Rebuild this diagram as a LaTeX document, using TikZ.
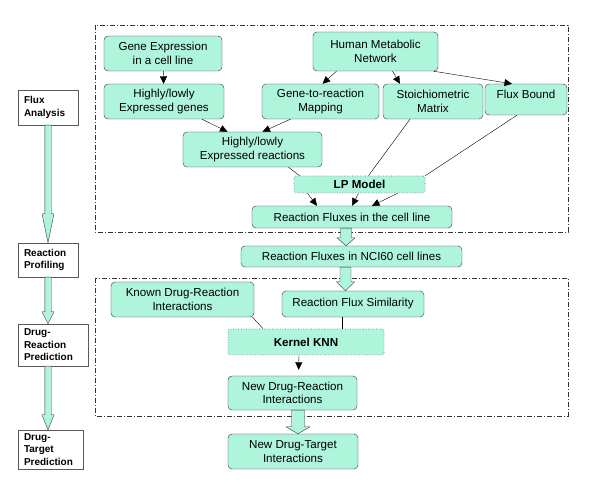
\documentclass[tikz,border=0pt]{standalone}
\usepackage{fontspec}
\setmainfont{Liberation Sans}
\usetikzlibrary{arrows.meta,calc}

\definecolor{boxgreen}{RGB}{174,245,220}
\definecolor{boxline}{RGB}{51,51,51}

\tikzset{
  box/.style={draw=boxline, fill=boxgreen, rounded corners=4pt, align=center,
    inner sep=1pt, font=\fontsize{11.6}{13.7}\selectfont},
  model/.style={draw=black!55, dotted, line width=0.6pt, fill=boxgreen, rounded corners=2pt,
    inner sep=1pt, font=\bfseries\fontsize{11.6}{13.7}\selectfont},
  stage/.style={draw=black!65, fill=white, align=left, inner xsep=6pt, inner ysep=1pt,
    font=\bfseries\fontsize{10}{12.5}\selectfont},
  frame/.style={draw=black!80, dash pattern=on 5pt off 2pt on 1pt off 2pt},
  arr/.style={-{Triangle[length=7.5pt,width=7pt]}},
  fat/.style={draw=black!80, fill=boxgreen},
}

% hollow block arrow: from, to, half shaft, half head, head length
\newcommand{\fatarrow}[5]{%
  \draw[fat] ($(#1)+(-#3,0)$) -- ($(#2 -| #1)+(-#3,-#5)$) -- ($(#2 -| #1)+(-#4,-#5)$)
    -- (#2 -| #1) -- ($(#2 -| #1)+(#4,-#5)$) -- ($(#2 -| #1)+(#3,-#5)$)
    -- ($(#1)+(#3,0)$) -- cycle;
}

\begin{document}
\begin{tikzpicture}[x=1pt,y=1pt,yscale=-1]
  \useasboundingbox (0,0) rectangle (600,502);

  % dash-dot frames
  \draw[frame] (95,25) rectangle (568,232);
  \draw[frame] (95,278) rectangle (568,416);

  % stages on the left
  \node[stage, text width=48pt, minimum height=35pt] (fa) at (48,107.5) {Flux\\Analysis};
  \node[stage, text width=48pt, minimum height=34pt] (rp) at (48,260) {Reaction\\Profiling};
  \node[stage, text width=58pt, minimum height=42pt] (drp) at (53,345) {Drug-\\Reaction\\Prediction};
  \node[stage, text width=53pt, minimum height=39pt] (dtp) at (50.5,449.5) {Drug-\\Target\\Prediction};

  % flux analysis
  \node[box, minimum width=118pt, minimum height=35pt] (ge) at (163,53.5) {Gene Expression\\in a cell line};
  \node[box, minimum width=120pt, minimum height=35pt] (hg) at (164,101.5) {Highly/lowly\\Expressed genes};
  \node[box, minimum width=125pt, minimum height=39pt] (hmn) at (375.5,51.5) {Human Metabolic\\Network};
  \node[box, minimum width=117pt, minimum height=35pt] (g2r) at (320.5,101.5) {Gene-to-reaction\\Mapping};
  \node[box, minimum width=100pt, minimum height=35pt] (sm) at (433,101.5) {Stoichiometric\\Matrix};
  \node[box, minimum width=82pt, minimum height=31pt, text depth=11pt] (fb) at (526,99.5) {Flux Bound};
  \node[box, minimum width=139pt, minimum height=35pt] (hr) at (252.5,149.5) {Highly/lowly\\Expressed reactions};
  \node[model, minimum width=131pt, minimum height=17pt] (lp) at (359.5,184.5) {LP Model};
  \node[box, minimum width=200pt, minimum height=22pt] (rfc) at (352,217) {Reaction Fluxes in the cell line};

  % profiling
  \node[box, minimum width=221pt, minimum height=21pt] (rfn) at (351.5,256.5) {Reaction Fluxes in NCI60 cell lines};

  % drug-reaction prediction
  \node[box, minimum width=143pt, minimum height=35pt] (kdr) at (182.5,299.5) {Known Drug-Reaction\\Interactions};
  \node[box, minimum width=142pt, minimum height=26pt] (rfs) at (353,304) {Reaction Flux Similarity};
  \node[model, minimum width=156pt, minimum height=26pt] (knn) at (306,342) {Kernel KNN};
  \node[box, minimum width=129pt, minimum height=34pt] (ndr) at (292.5,393) {New Drug-Reaction\\Interactions};
  \node[box, minimum width=130pt, minimum height=35pt] (ndt) at (293,451.5) {New Drug-Target\\Interactions};

  % connectors
  \draw[arr] (ge) -- (hg);
  \draw[arr] ([xshift=38]hg.south) -- ([xshift=-25]hr.north);
  \draw[arr] ([xshift=-30]g2r.south) -- ([xshift=10]hr.north);
  \draw[arr] ([xshift=-39]hmn.south) -- ([xshift=2]g2r.north);
  \draw[arr] ([xshift=17]hmn.south) -- ([xshift=-33]sm.north);
  \draw[arr] ([xshift=58]hmn.south) -- ([xshift=-14]fb.north);
  \draw ([xshift=36]hr.south) -- ([xshift=-60]lp.north);
  \draw ([xshift=-23]sm.south) -- ([xshift=9]lp.north);
  \draw ([xshift=-9]fb.south) -- (lp.north east);
  \draw[arr] ([xshift=-52]lp.south) -- ([xshift=-35]rfc.north);
  \draw[arr] ([xshift=-1]lp.south) -- (rfc.north);
  \draw[arr] ([xshift=38]lp.south) -- ([xshift=20]rfc.north);
  \draw ([xshift=70]kdr.south) -- ([xshift=-43]knn.north);
  \draw ([xshift=-11]rfs.south) -- ([xshift=36]knn.north);
  \draw[arr, shorten >=6pt] ([xshift=-7]knn.south) -- ([xshift=6]ndr.north);

  % block arrows
  \coordinate (drpout) at (drp.south -| rp.south);
  \coordinate (rfcout) at ($(rfc.south)+(-6,0)$);
  \coordinate (rfnout) at ($(rfn.south)+(-6,0)$);
  \coordinate (ndrout) at ($(ndr.south)+(5.5,0)$);
  \fatarrow{fa.south}{rp.north}{3.2}{6}{29}
  \fatarrow{rp.south}{drp.north}{3.2}{6}{12}
  \fatarrow{drpout}{dtp.north}{3.2}{6}{15}
  \fatarrow{rfcout}{rfn.north}{5.5}{9}{8}
  \fatarrow{rfnout}{rfs.north}{5.5}{9}{9}
  \fatarrow{ndrout}{ndt.north}{6.5}{12}{7}
\end{tikzpicture}
\end{document}
